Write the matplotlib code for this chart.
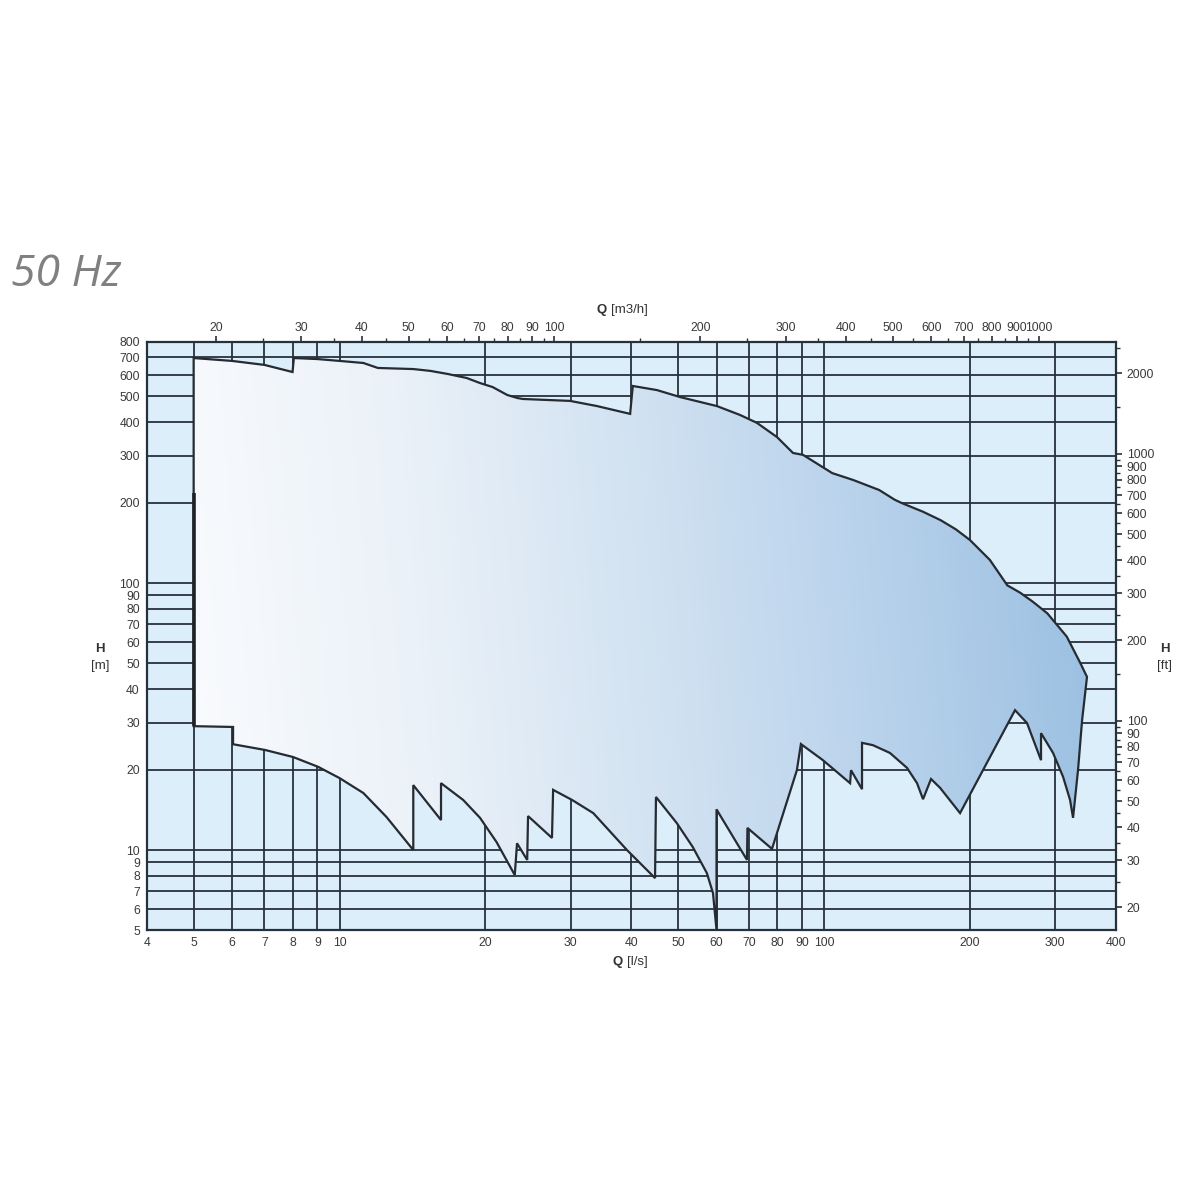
import numpy as np
import matplotlib
matplotlib.use("Agg")
import matplotlib.pyplot as plt
from matplotlib.path import Path
from matplotlib.patches import PathPatch
from matplotlib.colors import LinearSegmentedColormap
from matplotlib.ticker import FixedLocator, NullFormatter, FixedFormatter

# ---------------- data (Q in l/s, H in m) ----------------
# upper envelope, left to right
upper_q = [5.0, 6.0, 7.0, 8.0, 8.05, 9.0, 10.0, 11.2, 12.0, 14.2, 15.4, 16.7, 18.3,
           19.5, 20.7, 22.2, 23.3, 23.9, 29.9, 34.0, 39.8, 40.3, 45.2, 50.5, 60.1,
           67.1, 72.7, 80.0, 86.3, 90.5, 104, 115, 130, 140, 145, 160, 174, 187,
           200, 220, 239, 254, 270, 289, 317, 338, 349]
upper_h = [696, 679, 656, 617, 696, 690, 679, 667, 639, 633, 623, 607, 586,
           561, 542, 506, 493, 489, 481, 460, 430, 547, 528, 497, 460,
           426, 398, 352, 307, 302, 258, 243, 223, 205, 199, 185, 172, 159,
           145, 122, 98, 92, 85, 77, 63, 50.2, 44.5]

# lower envelope, left to right
lower_q = [5.0, 6.03, 6.03, 7.02, 8.02, 9.03, 10.0, 11.2, 12.5, 14.2, 14.2, 16.2,
           16.2, 18.0, 19.5, 21.1, 23.0, 23.25, 24.4, 24.5, 27.45, 27.6, 30.2, 33.4,
           39.2, 44.8, 45.0, 49.7, 53.6, 57.3, 59.0, 60.0, 60.0, 69.35, 69.5, 78.1,
           80.0, 87.9, 89.6, 99.5, 113.2, 113.7, 119.8, 119.8, 126.2, 136.8, 148.4,
           155.6, 160.1, 166.3, 173.6, 190.9, 247.9, 262.4, 280.5, 280.5, 297.0,
           311.5, 322.0, 326.6, 334.4, 341.0, 349]
lower_h = [29.1, 28.9, 24.9, 23.7, 22.3, 20.5, 18.6, 16.35, 13.3, 10.0, 17.5, 12.95,
           17.8, 15.4, 13.2, 10.7, 8.06, 10.6, 9.18, 13.4, 11.1, 16.8, 15.4, 13.75,
           10.0, 7.85, 15.8, 12.6, 10.26, 8.2, 6.9, 5.02, 14.2, 9.18, 12.1, 10.1,
           11.6, 19.9, 24.95, 21.7, 17.8, 19.9, 16.9, 25.2, 24.7, 23.1, 20.3,
           17.8, 15.5, 18.45, 17.1, 13.75, 33.4, 29.9, 21.7, 27.4, 23.1,
           18.8, 15.4, 13.2, 19.9, 30.7, 44.5]

# thick lower part of the left edge (Q, H range)
left_edge_q = 5.02
left_edge_h = [217, 29.1]

x_ticks = [4, 5, 6, 7, 8, 9, 10, 20, 30, 40, 50, 60, 70, 80, 90, 100, 200, 300, 400]
y_ticks = [5, 6, 7, 8, 9, 10, 20, 30, 40, 50, 60, 70, 80, 90, 100, 200, 300, 400,
           500, 600, 700, 800]
top_ticks = [20, 30, 40, 50, 60, 70, 80, 90, 100, 200, 300, 400, 500, 600, 700,
             800, 900, 1000]
top_minor = [25, 35, 45, 55, 65, 75, 85, 95, 150, 250, 350, 450, 550, 650, 750,
             850, 950]
right_ticks = [20, 30, 40, 50, 60, 70, 80, 90, 100, 200, 300, 400, 500, 600, 700,
               800, 900, 1000, 2000]
right_minor = [25, 35, 45, 55, 65, 75, 85, 95, 150, 250, 350, 450, 550, 650, 750,
               850, 950, 1500, 2500]

M3H_PER_LS = 3.6
FT_PER_M = 3.28084
xlim = (4, 400)
ylim = (5, 800)

# ---------------- figure ----------------
fig = plt.figure(figsize=(12, 12), dpi=100)
W = H = 1200.0
x0, x1 = 146.7, 1115.7
y0, y1 = 341.9, 930.4
ax = fig.add_axes([x0 / W, 1 - y1 / H, (x1 - x0) / W, (y1 - y0) / H])

ax.set_xscale("log")
ax.set_yscale("log")
ax.set_xlim(*xlim)
ax.set_ylim(*ylim)
ax.set_facecolor("#dbeefa")

grid_col = "#27313b"
ax.xaxis.set_major_locator(FixedLocator(x_ticks))
ax.xaxis.set_major_formatter(FixedFormatter([str(v) for v in x_ticks]))
ax.xaxis.set_minor_locator(FixedLocator([]))
ax.yaxis.set_major_locator(FixedLocator(y_ticks))
ax.yaxis.set_major_formatter(FixedFormatter([str(v) for v in y_ticks]))
ax.yaxis.set_minor_locator(FixedLocator([]))
ax.tick_params(axis="both", which="both", length=0, labelsize=8.8,
               labelcolor="#3a3a3a")
ax.tick_params(axis="x", pad=5)
ax.tick_params(axis="y", pad=5)
for lab in ax.get_xticklabels() + ax.get_yticklabels():
    lab.set_fontfamily("Liberation Sans")
ax.grid(True, which="major", color=grid_col, linewidth=1.3, zorder=1)
ax.set_axisbelow(True)
for s in ax.spines.values():
    s.set_color("#27313b")
    s.set_linewidth(1.6)
    s.set_zorder(5)

# polygon
poly_q = list(upper_q) + list(lower_q[::-1])
poly_h = list(upper_h) + list(lower_h[::-1])
verts = np.column_stack([poly_q, poly_h])
path = Path(np.vstack([verts, verts[:1]]), closed=True)
patch = PathPatch(path, facecolor="none", edgecolor="#262b31", linewidth=1.6,
                  zorder=4, joinstyle="miter")
clip = PathPatch(path, facecolor="none", edgecolor="none", transform=ax.transData)
ax.add_patch(clip)

cmap = LinearSegmentedColormap.from_list(
    "fillgrad", ["#f8fafd", "#eaf1f8", "#d3e3f2", "#bad3ec", "#9dc1e2"])
nx, ny = 400, 200
gx = np.linspace(0, 1, nx)
gy = np.linspace(0, 1, ny)
GX, GY = np.meshgrid(gx, gy)
T = np.clip((GX - 0.05) / 0.92 + 0.06 * (GY - 0.5), 0, 1)
img = ax.imshow(T, cmap=cmap, vmin=0, vmax=1, extent=[0, 1, 0, 1],
                transform=ax.transAxes, origin="lower", aspect="auto",
                interpolation="bilinear", zorder=2)
img.set_clip_path(clip)
ax.add_patch(patch)
ax.plot([left_edge_q, left_edge_q], left_edge_h, color="#1e2226", linewidth=2.6,
        zorder=4, solid_capstyle="butt")
ax.set_xlim(*xlim)
ax.set_ylim(*ylim)

# top axis (m3/h)
axt = ax.twiny()
axt.set_xscale("log")
axt.set_xlim(xlim[0] * M3H_PER_LS, xlim[1] * M3H_PER_LS)
axt.xaxis.set_major_locator(FixedLocator(top_ticks))
axt.xaxis.set_major_formatter(FixedFormatter([str(v) for v in top_ticks]))
axt.xaxis.set_minor_locator(FixedLocator(top_minor))
axt.xaxis.set_minor_formatter(NullFormatter())
axt.tick_params(axis="x", which="major", length=4, width=1.2, color="#27313b",
                labelsize=8.8, labelcolor="#3a3a3a", pad=2, direction="out")
axt.tick_params(axis="x", which="minor", length=3, width=1.0, color="#27313b",
                direction="out")
for lab in axt.get_xticklabels():
    lab.set_fontfamily("Liberation Sans")
for s in axt.spines.values():
    s.set_visible(False)

# right axis (ft)
axr = ax.twinx()
axr.set_yscale("log")
axr.set_ylim(ylim[0] * FT_PER_M, ylim[1] * FT_PER_M)
axr.yaxis.set_major_locator(FixedLocator(right_ticks))
axr.yaxis.set_major_formatter(FixedFormatter([str(v) for v in right_ticks]))
axr.yaxis.set_minor_locator(FixedLocator(right_minor))
axr.yaxis.set_minor_formatter(NullFormatter())
axr.tick_params(axis="y", which="major", length=4, width=1.2, color="#27313b",
                labelsize=8.8, labelcolor="#3a3a3a", pad=4, direction="out")
axr.tick_params(axis="y", which="minor", length=3, width=1.0, color="#27313b",
                direction="out")
for lab in axr.get_yticklabels():
    lab.set_fontfamily("Liberation Sans")
for s in axr.spines.values():
    s.set_visible(False)

# axis titles
lab_kw = dict(fontsize=9.5, color="#333333", family="Liberation Sans")
fig.text(100 / W, 1 - 649 / H, "H", ha="center", va="center", fontweight="bold", **lab_kw)
fig.text(100 / W, 1 - 666 / H, "[m]", ha="center", va="center", **lab_kw)
fig.text(1165 / W, 1 - 649 / H, "H", ha="center", va="center", fontweight="bold", **lab_kw)
fig.text(1165 / W, 1 - 666 / H, "[ft]", ha="center", va="center", **lab_kw)
fig.text(623 / W, 1 - 962 / H, "Q", ha="right", va="center", fontweight="bold", **lab_kw)
fig.text(627 / W, 1 - 962 / H, "[l/s]", ha="left", va="center", **lab_kw)
fig.text(607 / W, 1 - 310 / H, "Q", ha="right", va="center", fontweight="bold", **lab_kw)
fig.text(611 / W, 1 - 310 / H, "[m3/h]", ha="left", va="center", **lab_kw)

# title
fig.text(11 / W, 1 - 275 / H, "50 Hz", ha="left", va="center", fontsize=32,
         style="italic", color="#808080", family=["Open Sans", "DejaVu Sans"])

fig.savefig("out.png", dpi=100, facecolor="white")
